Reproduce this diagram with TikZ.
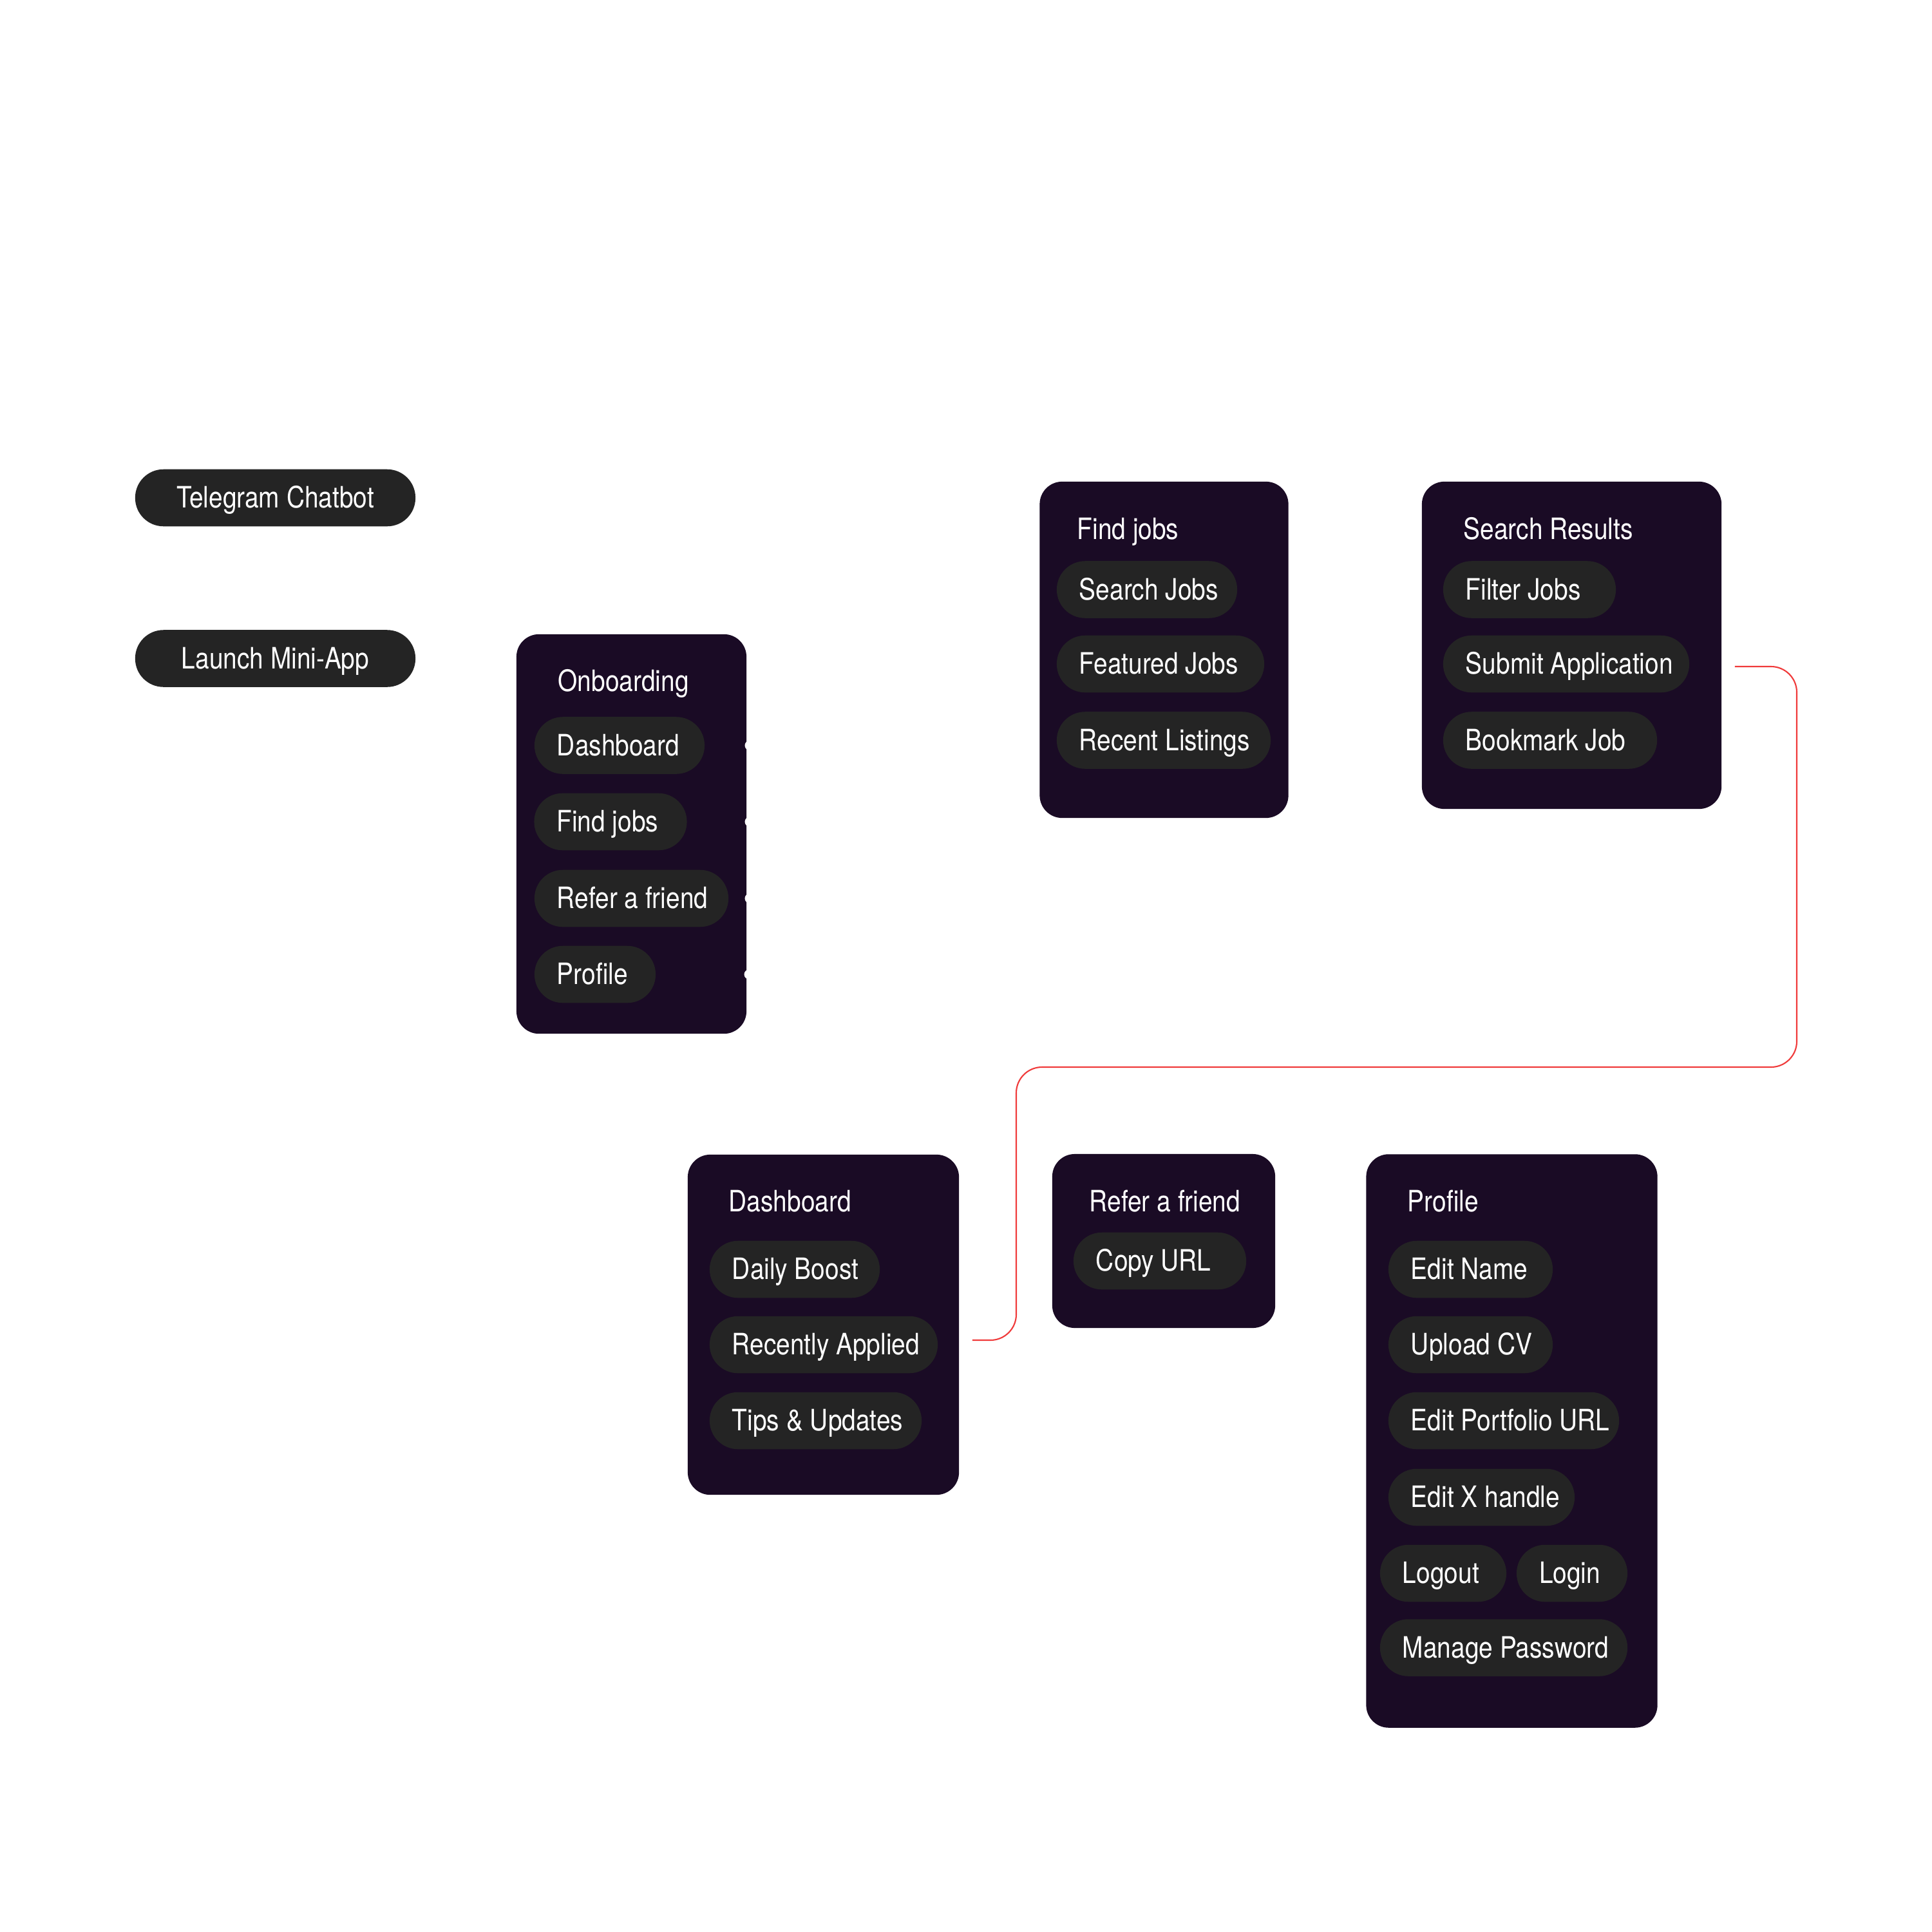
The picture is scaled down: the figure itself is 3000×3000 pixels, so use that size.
\documentclass[tikz,border=0pt]{standalone}
\usepackage{fontspec}
\setmainfont{TeX Gyre Heros}[FakeStretch=0.85]
\usetikzlibrary{calc,backgrounds}
\definecolor{cardbg}{RGB}{26,11,37}
\definecolor{pillbg}{RGB}{36,36,36}
\definecolor{flowred}{RGB}{240,58,58}
\newcommand\pilltxt[2]{\makebox[#1][l]{#2}}
\tikzset{
  pill/.style={fill=pillbg, text=white, rounded corners=0.44cm, minimum height=0.885cm,
    inner xsep=0.35cm, inner ysep=0pt, text height=0.32cm, text depth=0.01cm,
    font=\fontsize{13}{15}\selectfont},
  card/.style={fill=cardbg, rounded corners=0.35cm, inner sep=0pt},
  cardtitle/.style={text=white, anchor=base west, inner sep=0pt, font=\fontsize{13}{15}\selectfont},
  ghost/.style={draw=white, line width=0.6pt, rounded corners=0.4cm},
  redline/.style={draw=flowred, line width=0.6pt, rounded corners=0.4cm},
  whitedot/.style={circle, fill=white, minimum size=0.15cm, inner sep=0pt},
}
\begin{document}
\begin{tikzpicture}[x=0.01cm,y=-0.01cm]
\begin{pgfonlayer}{background}
\fill[white] (0,0) rectangle (3000,3000);
\end{pgfonlayer}
\useasboundingbox (0,0) rectangle (3000,3000);

% title (white on white)
\node[text=white, anchor=base west, inner sep=0pt, font=\fontsize{37}{42}\selectfont] (title) at (243,242) {Mini-App Product Flow};

% entry pills
\node[pill, minimum width=4.35cm] (tg) at (427.5,773) {Telegram Chatbot};
\node[pill, minimum width=4.35cm] (launch) at (427.5,1022.5) {Launch Mini-App};

% cards
\node[card, minimum width=3.57cm, minimum height=6.2cm] (onb) at (980.5,1295) {};
\node[card, minimum width=3.86cm, minimum height=5.22cm] (fjcard) at (1807.5,1009) {};
\node[card, minimum width=4.65cm, minimum height=5.08cm] (srcard) at (2440.5,1002) {};
\node[card, minimum width=4.21cm, minimum height=5.28cm] (dbcard) at (1278.5,2057) {};
\node[card, minimum width=3.46cm, minimum height=2.70cm] (rfcard) at (1807,1927) {};
\node[card, minimum width=4.52cm, minimum height=8.90cm] (pfcard) at (2347.5,2237.5) {};

% card titles
\node[cardtitle] (onbT) at (866,1073) {Onboarding};
\node[cardtitle] (fjT) at (1672,837) {Find jobs};
\node[cardtitle] (srT) at (2272,837) {Search Results};
\node[cardtitle] (dbT) at (1131,1881) {Dashboard};
\node[cardtitle, anchor=base] (rfT) at (1809,1881) {Refer a friend};
\node[cardtitle] (pfT) at (2185,1881) {Profile};

% onboarding pills
\node[pill] (oDash) at (962,1157.5) {\pilltxt{1.94cm}{Dashboard}};
\node[pill] (oFind) at (948,1276) {\pilltxt{1.67cm}{Find jobs}};
\node[pill] (oRefer) at (980.5,1395) {\pilltxt{2.31cm}{Refer a friend}};
\node[pill] (oProf) at (924,1513) {\pilltxt{1.18cm}{Profile}};

% find jobs pills
\node[pill] (search) at (1781,915.5) {\pilltxt{2.10cm}{Search Jobs}};
\node[pill] (featured) at (1802,1031) {\pilltxt{2.52cm}{Featured Jobs}};
\node[pill] (recent) at (1807,1149.5) {\pilltxt{2.62cm}{Recent Listings}};

% search results pills
\node[pill] (filter) at (2375,915.5) {\pilltxt{1.98cm}{Filter Jobs}};
\node[pill] (submit) at (2432,1031) {\pilltxt{3.12cm}{Submit Application}};
\node[pill] (bookmark) at (2407,1149.5) {\pilltxt{2.62cm}{Bookmark Job}};

% dashboard pills
\node[pill] (daily) at (1234,1971) {\pilltxt{1.94cm}{Daily Boost}};
\node[pill] (rapp) at (1279,2088) {\pilltxt{2.84cm}{Recently Applied}};
\node[pill] (tips) at (1266.5,2206) {\pilltxt{2.59cm}{Tips \& Updates}};

% refer pill
\node[pill] (copy) at (1801,1958) {\pilltxt{1.98cm}{Copy URL}};

% profile pills
\node[pill] (ename) at (2283.5,1971) {\pilltxt{1.85cm}{Edit Name}};
\node[pill] (upcv) at (2283.5,2088) {\pilltxt{1.85cm}{Upload CV}};
\node[pill] (eport) at (2335,2206) {\pilltxt{2.88cm}{Edit Portfolio URL}};
\node[pill] (ex) at (2300.5,2325) {\pilltxt{2.19cm}{Edit X handle}};
\node[pill] (logout) at (2241,2443) {\pilltxt{1.26cm}{Logout}};
\node[pill] (login) at (2441,2443) {\pilltxt{1.02cm}{Login}};
\node[pill] (mpass) at (2335,2558.5) {\pilltxt{3.14cm}{Manage Password}};

% white connectors (white on white), kept behind the shapes
\coordinate (onbIn) at (789,1092);
\coordinate (fjIn) at (1596,917);
\node[whitedot] (d1) at (1164,1157.5) {};
\node[whitedot] (d2) at (1164,1276) {};
\node[whitedot] (d3) at (1164,1395) {};
\node[whitedot] (d4) at (1163,1513) {};
\begin{pgfonlayer}{background}
\draw[ghost] (tg.south) -- (launch.north);
\draw[ghost] (launch.south) |- (onbIn);
\draw[ghost] (d1) -| ($(dbcard.north)+(-34,0)$);
\draw[ghost] (d2) -| (1391,917) -- (fjIn);
\draw[ghost] (d3) -| (rfcard.north);
\draw[ghost] (d4) -| ($(pfcard.north)+(-12,0)$);
\end{pgfonlayer}

% red connector
\coordinate (redA) at ($(srcard.east |- submit.center)+(20,4)$);
\coordinate (redB) at ($(dbcard.east |- rapp.center)+(20,-7)$);
\draw[redline] (redA) -| (2790,1657) -| (1578,2081) -- (redB);
\end{tikzpicture}
\end{document}
